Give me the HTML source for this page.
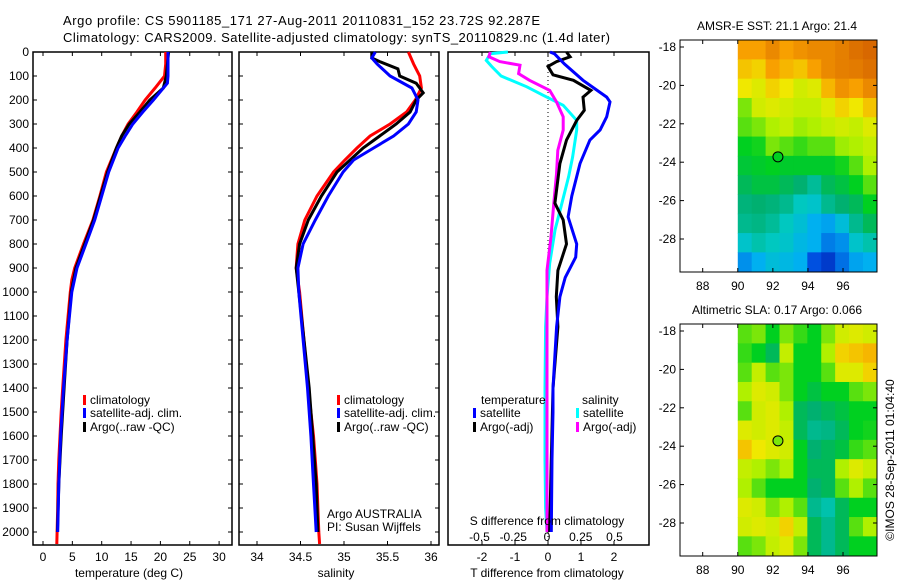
<!DOCTYPE html>
<html><head><meta charset="utf-8">
<style>
html,body{margin:0;padding:0;background:#fff;}
svg{display:block;font-family:"Liberation Sans",sans-serif;}
text{fill:#000;}
</style></head>
<body>
<svg id="fig" width="900" height="580" viewBox="0 0 900 580" xmlns="http://www.w3.org/2000/svg">
<text x="63" y="25" font-size="13" textLength="477">Argo profile: CS 5901185_171 27-Aug-2011 20110831_152 23.72S 92.287E</text>
<text x="63" y="42" font-size="13" textLength="547">Climatology: CARS2009. Satellite-adjusted climatology: synTS_20110829.nc (1.4d later)</text>
<g id="layer"></g>
</svg>
<script>
// ---------- data ----------
const depthTicks = [0,100,200,300,400,500,600,700,800,900,1000,1100,1200,1300,1400,1500,1600,1700,1800,1900,2000];
const tempTicks = [0,5,10,15,20,25,30];
const salTicks = [34,34.5,35,35.5,36];
const salTickLabels = ['34','34.5','35','35.5','36'];
const tdiffTicks = [-2,-1,0,1,2];
const sdiffTicks = [-0.5,-0.25,0,0.25,0.5];

const tClimDepth = [0,50,100,150,200,250,300,350,400,500,600,700,800,900,950,1000,1200,1400,1500,1600,1700,1800,1900,2000,2050];
const tClim = [20.9,20.9,20.7,19.1,17.4,16.0,14.5,13.4,12.5,10.8,9.7,8.5,6.9,5.4,4.9,4.65,3.9,3.35,3.1,2.9,2.7,2.55,2.5,2.4,2.35];
const tSatDepth = [0,100,130,200,250,300,350,400,500,600,700,800,900,1000,1200,1400,1600,1800,2000];
const tSat = [21.3,21.3,21.2,18.8,17.0,15.3,14.0,12.8,11.2,10.0,8.8,7.3,5.8,4.9,4.1,3.5,3.0,2.7,2.5];
const tArgoDepth = [0,100,150,200,250,300,350,400,500,600,700,800,900,1000,1200,1400,1600,1800,2000];
const tArgo = [21.4,21.0,20.5,18.2,16.5,14.7,13.4,12.5,11.0,9.8,8.6,7.1,5.6,4.8,4.1,3.6,3.1,2.7,2.45];

const sClimDepth = [0,50,100,150,200,250,300,350,400,450,500,600,700,800,850,900,1000,1400,1500,1600,1700,1800,1900,2000,2050];
const sClim = [35.74,35.80,35.87,35.89,35.82,35.72,35.53,35.30,35.15,35.01,34.88,34.69,34.55,34.47,34.46,34.45,34.49,34.59,34.62,34.65,34.67,34.69,34.70,34.71,34.72];
const sSatDepth = [0,25,50,100,150,200,250,300,350,400,450,500,600,700,800,900,1000,1400,1600,1800,2000];
const sSat = [35.36,35.32,35.38,35.53,35.78,35.85,35.83,35.74,35.57,35.34,35.11,34.99,34.82,34.67,34.53,34.47,34.48,34.58,34.62,34.65,34.68];
const sArgoDepth = [0,25,40,70,100,130,170,200,250,300,350,400,500,600,700,800,900,1000,1400,1600,1800,2000];
const sArgo = [35.32,35.32,35.41,35.62,35.64,35.83,35.91,35.83,35.76,35.60,35.41,35.22,34.92,34.74,34.59,34.49,34.45,34.48,34.60,34.64,34.68,34.70];

const dtSatDepth = [0,8,50,118,188,208,270,325,367,465,600,687,800,855,940,1020,1145,1400,1500,1700,2000];
const dtSat = [0.06,0.2,0.5,1.06,1.78,1.88,1.78,1.58,1.27,0.97,0.72,0.61,0.87,0.84,0.52,0.36,0.26,0.15,0.15,0.12,0.1];
const dtArgoDepth = [0,20,40,60,95,118,160,188,243,285,367,465,630,700,800,910,1020,1145,1400,1700,2000];
const dtArgo = [0.56,0.67,0.26,0.0,0.15,0.77,1.3,1.06,1.1,0.87,0.56,0.36,0.21,0.46,0.56,0.3,0.25,0.3,0.15,0.1,0.05];
const dsSatDepth = [0,7,35,60,100,145,180,222,285,325,438,520,630,740,880,1020,1145,1400,1700,1900,2000];
const dsSat = [-0.29,-0.42,-0.45,-0.41,-0.34,-0.15,-0.03,0.12,0.22,0.22,0.19,0.16,0.11,0.06,0.02,0.0,-0.01,-0.015,-0.015,-0.01,0.0];
const dsArgoDepth = [0,20,40,55,90,118,160,208,270,325,410,508,630,770,910,1145,1400,1700,2000];
const dsArgo = [-0.42,-0.43,-0.35,-0.2,-0.21,-0.13,0.02,0.07,0.12,0.12,0.08,0.07,0.05,0.03,0.0,0.0,0.0,0.0,0.0];

const latTicks = [-18,-20,-22,-24,-26,-28];
const lonTicks = [88,90,92,94,96];
const argoLon = 92.29, argoLat = -23.72;
const sstGrid = [
[0.85,0.85,0.9,0.85,0.88,0.9,0.9,0.92,0.95,0.97],
[0.8,0.78,0.85,0.82,0.8,0.85,0.9,0.92,0.93,0.95],
[0.75,0.72,0.78,0.75,0.7,0.72,0.82,0.88,0.85,0.9],
[0.62,0.7,0.72,0.7,0.68,0.68,0.72,0.78,0.75,0.8],
[0.6,0.62,0.65,0.68,0.64,0.65,0.68,0.7,0.68,0.72],
[0.55,0.56,0.62,0.6,0.58,0.6,0.6,0.64,0.65,0.68],
[0.53,0.54,0.55,0.54,0.54,0.54,0.54,0.56,0.6,0.65],
[0.5,0.52,0.52,0.5,0.48,0.44,0.5,0.52,0.55,0.6],
[0.47,0.48,0.47,0.45,0.4,0.38,0.45,0.48,0.5,0.55],
[0.45,0.46,0.44,0.4,0.36,0.3,0.28,0.35,0.45,0.5],
[0.38,0.42,0.4,0.38,0.33,0.3,0.22,0.25,0.38,0.42],
[0.25,0.3,0.35,0.33,0.3,0.15,0.1,0.2,0.28,0.3]];
const slaGrid = [
[0.6,0.62,0.55,0.62,0.58,0.55,0.62,0.7,0.72,0.7],
[0.58,0.55,0.5,0.68,0.55,0.55,0.65,0.78,0.8,0.82],
[0.6,0.68,0.6,0.62,0.55,0.55,0.6,0.72,0.72,0.78],
[0.65,0.72,0.7,0.62,0.55,0.52,0.55,0.55,0.6,0.62],
[0.6,0.7,0.72,0.65,0.5,0.48,0.5,0.52,0.55,0.55],
[0.72,0.7,0.72,0.68,0.5,0.45,0.46,0.5,0.55,0.56],
[0.8,0.75,0.72,0.7,0.55,0.48,0.5,0.52,0.58,0.6],
[0.68,0.65,0.62,0.65,0.55,0.5,0.5,0.65,0.72,0.68],
[0.65,0.6,0.55,0.55,0.55,0.48,0.5,0.6,0.65,0.6],
[0.72,0.7,0.62,0.65,0.6,0.45,0.42,0.5,0.55,0.55],
[0.7,0.72,0.7,0.78,0.68,0.5,0.45,0.5,0.6,0.65],
[0.6,0.62,0.68,0.72,0.62,0.5,0.45,0.5,0.55,0.55]];
const sstArgoVal = 0.55, slaArgoVal = 0.62;

// ---------- helpers ----------
const NS='http://www.w3.org/2000/svg';
const layer=document.getElementById('layer');
function mk(tag,attrs,parent){const e=document.createElementNS(NS,tag);for(const k in attrs)e.setAttribute(k,attrs[k]);(parent||layer).appendChild(e);return e;}
function txt(x,y,s,anchor,size,parent){const t=mk('text',{x:x,y:y,'font-size':size||12,'text-anchor':anchor||'start'},parent);t.textContent=s;return t;}

const PT=52, PB=545;
const yD = d => PT + d*0.24;
const xT = t => 43 + t*5.87;
const xS = s => 257 + (s-34)*87;
const xDT = d => 548 + d*33;
const xDS = s => 547 + s*135;

function box(x0,x1,name){
  const r=mk('rect',{x:x0,y:PT,width:x1-x0,height:PB-PT,fill:'none',stroke:'#000','stroke-width':1.5});
  
  
}
function line(dep,vals,xf,color,name){
  const pts=dep.map((d,i)=>xf(vals[i]).toFixed(1)+','+yD(d).toFixed(1)).join(' ');
  const p=mk('polyline',{points:pts,fill:'none',stroke:color,'stroke-width':3,'stroke-linejoin':'miter'});
  
  
}
function legendEntry(x,y,color,label,name){
  const g=mk('g',{});
  
  
  mk('rect',{x:x,y:y-9,width:3,height:10,fill:color},g);
  txt(x+7,y,label,'start',12,g);
}

// ---------- panel 1: temperature ----------
box(33,232,'temperature-plot-frame');
depthTicks.forEach(d=>{
  const y=yD(d);
  mk('line',{x1:33,y1:y,x2:37,y2:y,stroke:'#000'});
  mk('line',{x1:228,y1:y,x2:232,y2:y,stroke:'#000'});
  mk('line',{x1:239,y1:y,x2:243,y2:y,stroke:'#000'});
  mk('line',{x1:435,y1:y,x2:439,y2:y,stroke:'#000'});
  const t=txt(29,y+4,String(d),'end',12);
  
  
});
tempTicks.forEach(v=>{
  const x=xT(v);
  mk('line',{x1:x,y1:PT,x2:x,y2:PT+4,stroke:'#000'});
  mk('line',{x1:x,y1:PB,x2:x,y2:PB-4,stroke:'#000'});
  const t=txt(x,561,String(v),'middle',12);
  
  
});
line(tClimDepth,tClim,xT,'#ff0000','temperature-climatology-line');
line(tArgoDepth,tArgo,xT,'#000000','temperature-argo-line');
line(tSatDepth,tSat,xT,'#0000ff','temperature-satellite-line');
legendEntry(83,404,'#ff0000','climatology','temp-legend-climatology');
legendEntry(83,417,'#0000ff','satellite-adj. clim.','temp-legend-satellite');
legendEntry(83,431,'#000000','Argo(..raw -QC)','temp-legend-argo');
{const t=txt(129,577,'temperature (deg C)','middle',12);}

// ---------- panel 2: salinity ----------
box(239,439,'salinity-plot-frame');
salTicks.forEach((v,i)=>{
  const x=xS(v);
  mk('line',{x1:x,y1:PT,x2:x,y2:PT+4,stroke:'#000'});
  mk('line',{x1:x,y1:PB,x2:x,y2:PB-4,stroke:'#000'});
  const t=txt(x,561,salTickLabels[i],'middle',12);
  
  
});
line(sClimDepth,sClim,xS,'#ff0000','salinity-climatology-line');
line(sArgoDepth,sArgo,xS,'#000000','salinity-argo-line');
line(sSatDepth,sSat,xS,'#0000ff','salinity-satellite-line');
legendEntry(337,404,'#ff0000','climatology','sal-legend-climatology');
legendEntry(337,417,'#0000ff','satellite-adj. clim.','sal-legend-satellite');
legendEntry(337,431,'#000000','Argo(..raw -QC)','sal-legend-argo');
{const t=txt(327,518,'Argo AUSTRALIA','start',12);}
{const t=txt(327,531,'PI: Susan Wijffels','start',12);}
{const t=txt(336,577,'salinity','middle',12);}

// ---------- panel 3: differences ----------
box(448,649,'difference-plot-frame');
mk('line',{x1:xDT(0),y1:PT,x2:xDT(0),y2:PB,stroke:'#000','stroke-dasharray':'1,3'});
tdiffTicks.forEach(v=>{
  const x=xDT(v);
  mk('line',{x1:x,y1:PT,x2:x,y2:PT+4,stroke:'#000'});
  mk('line',{x1:x,y1:PB,x2:x,y2:PB-4,stroke:'#000'});
  const t=txt(x,561,String(v),'middle',12);
  
  
});
line(dsSatDepth,dsSat,xDS,'#00ffff','s-diff-satellite-line');
line(dsArgoDepth,dsArgo,xDS,'#ff00ff','s-diff-argo-line');
line(dtArgoDepth,dtArgo,xDT,'#000000','t-diff-argo-line');
line(dtSatDepth,dtSat,xDT,'#0000ff','t-diff-satellite-line');
sdiffTicks.forEach(v=>{
  const t=txt(xDS(v),541,String(v),'middle',12);
  
  
});
{const t=txt(547,525,'S difference from climatology','middle',12);}
{const t=txt(547,577,'T difference from climatology','middle',12);}
{const t=txt(481,404,'temperature','start',12);}
{const t=txt(582,404,'salinity','start',12);}
legendEntry(473,417,'#0000ff','satellite','diff-legend-t-satellite');
legendEntry(473,431,'#000000','Argo(-adj)','diff-legend-t-argo');
legendEntry(576,417,'#00ffff','satellite','diff-legend-s-satellite');
legendEntry(576,431,'#ff00ff','Argo(-adj)','diff-legend-s-argo');

// ---------- maps ----------
const cstops=[[0,[0,16,160]],[0.15,[0,80,224]],[0.3,[0,176,240]],[0.4,[0,200,192]],[0.48,[0,176,112]],[0.55,[0,208,32]],[0.65,[176,240,0]],[0.75,[240,232,0]],[0.85,[248,160,0]],[1,[208,90,0]]];
function cmap(v){
  v=Math.max(0,Math.min(1,v));
  for(let i=1;i<cstops.length;i++){
    if(v<=cstops[i][0]){const a=cstops[i-1],b=cstops[i];const f=(v-a[0])/(b[0]-a[0]);
      const c=a[1].map((q,j)=>Math.round(q+(b[1][j]-q)*f));return 'rgb('+c.join(',')+')';}
  }
  return 'rgb(208,90,0)';
}
function drawMap(top,grid,argoVal,title,name){
  const L=680,R=877,H=232;
  const xLon=lon=>702.7+(lon-88)*17.54;
  const yLat=lat=>top+7+(-18-lat)*19.2;
  const latTop=-17.64, latBot=-29.7, lon0=90, lon1=97.93;
  const g=mk('g',{});
  
  
  const nr=grid.length,nc=grid[0].length;
  for(let r=0;r<nr;r++)for(let c=0;c<nc;c++){
    const la0=latTop+(latBot-latTop)*r/nr, la1=latTop+(latBot-latTop)*(r+1)/nr;
    const lo0=lon0+(lon1-lon0)*c/nc, lo1=lon0+(lon1-lon0)*(c+1)/nc;
    const cell=mk('rect',{x:xLon(lo0),y:yLat(la0),width:xLon(lo1)-xLon(lo0)+0.5,height:yLat(la1)-yLat(la0)+0.5,fill:cmap(grid[r][c])},g);
    
    
  }
  mk('rect',{x:L,y:top,width:R-L,height:H,fill:'none',stroke:'#000','stroke-width':1},g);
  latTicks.forEach(v=>{const y=yLat(v);mk('line',{x1:L,y1:y,x2:L+4,y2:y,stroke:'#000'},g);mk('line',{x1:R,y1:y,x2:R-4,y2:y,stroke:'#000'},g);
    const t=txt(L-4,y+4,String(v),'end',12,g);});
  lonTicks.forEach(v=>{const x=xLon(v);mk('line',{x1:x,y1:top,x2:x,y2:top+4,stroke:'#000'},g);mk('line',{x1:x,y1:top+H,x2:x,y2:top+H-4,stroke:'#000'},g);
    const t=txt(x,top+H+18,String(v),'middle',12,g);});
  const c=mk('circle',{cx:xLon(argoLon),cy:yLat(argoLat),r:5,fill:cmap(argoVal),stroke:'#000','stroke-width':1},g);
  
  
  const t=txt(777,top-10,title,'middle',12,g);
  
  
}
drawMap(40,sstGrid,sstArgoVal,'AMSR-E SST: 21.1 Argo: 21.4','sst-map');
drawMap(324,slaGrid,slaArgoVal,'Altimetric SLA: 0.17 Argo: 0.066','sla-map');
{const t=txt(0,0,'©IMOS 28-Sep-2011 01:04:40','middle',12);t.setAttribute('transform','translate(894,460) rotate(-90)');}
</script>
</body></html>
